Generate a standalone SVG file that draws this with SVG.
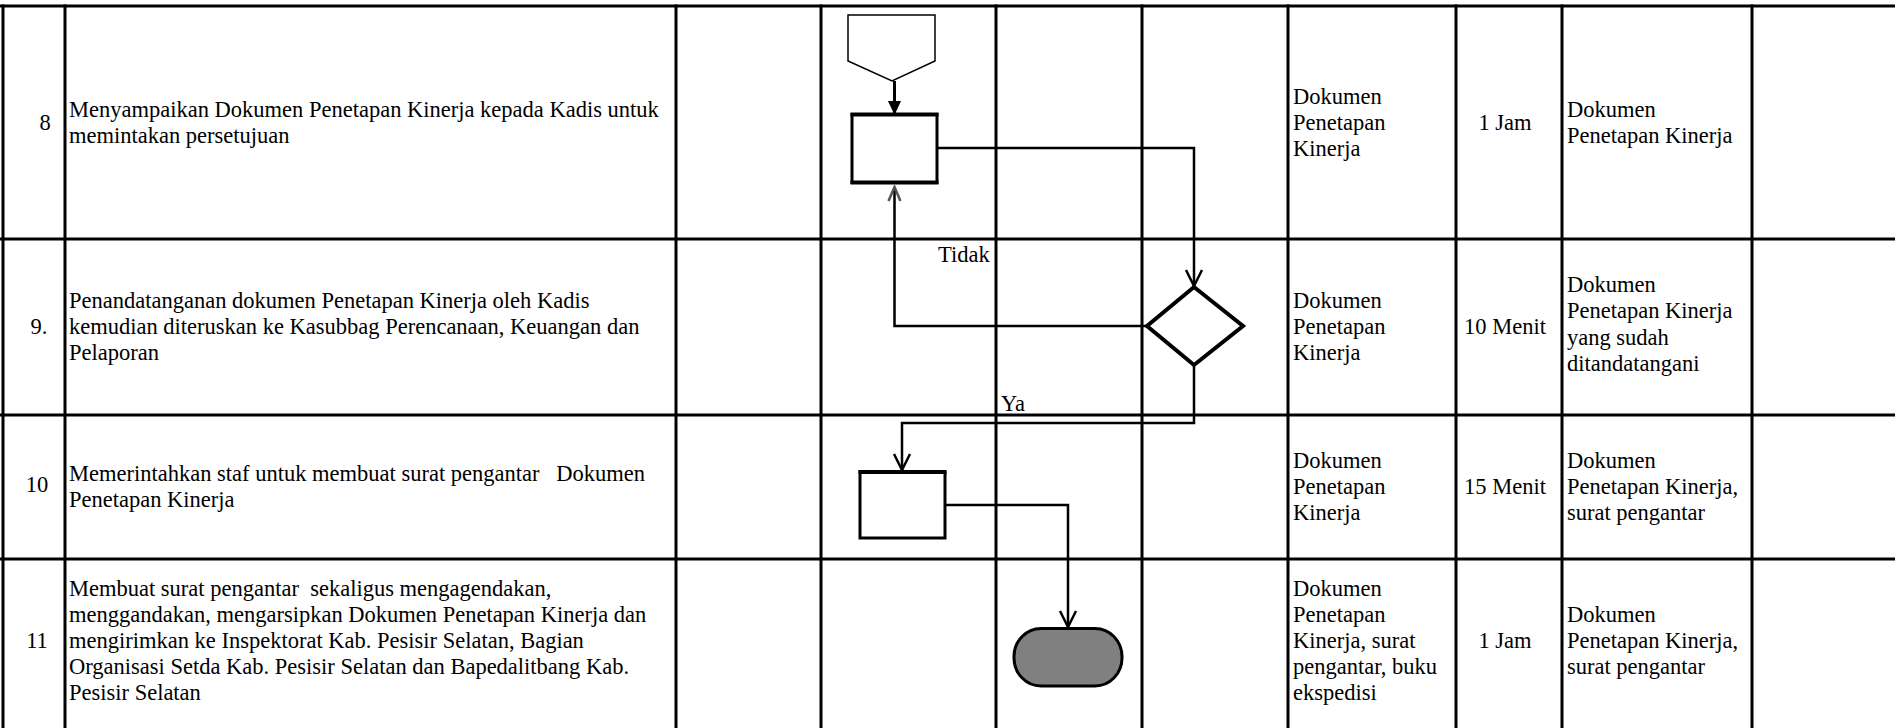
<svg xmlns="http://www.w3.org/2000/svg" width="1895" height="728" viewBox="0 0 1895 728">
<style>
.t{font-family:"Liberation Serif","Times New Roman",serif;font-size:22.5px;fill:#000}
.m{text-anchor:middle}
.grid{stroke:#000;stroke-width:3;fill:none}
.conn{stroke:#000;stroke-width:2.5;fill:none}
.shape{stroke:#000;stroke-width:3;fill:#fff}
</style>
<defs>
<marker id="open" viewBox="-18 -10 20 20" refX="0" refY="0" markerWidth="20" markerHeight="20" markerUnits="userSpaceOnUse" orient="auto">
<path d="M-16,-8 L0,0 L-16,8" fill="none" stroke="#000" stroke-width="2.5"/>
</marker>
<marker id="openfade" viewBox="-18 -10 20 20" refX="0" refY="0" markerWidth="20" markerHeight="20" markerUnits="userSpaceOnUse" orient="auto">
<path d="M-14,-6 L0,0 L-14,6" fill="none" stroke="#555" stroke-width="2.5"/>
</marker>
<marker id="solid" viewBox="-16 -8 18 16" refX="0" refY="0" markerWidth="18" markerHeight="16" markerUnits="userSpaceOnUse" orient="auto">
<path d="M-14,-6.5 L0,0 L-14,6.5 Z" fill="#000"/>
</marker>
</defs>
<rect width="1895" height="728" fill="#fff"/>
<g id="table" class="grid">
<line x1="0" y1="6" x2="1895" y2="6"/>
<line x1="0" y1="239" x2="1895" y2="239"/>
<line x1="0" y1="415" x2="1895" y2="415"/>
<line x1="0" y1="559" x2="1895" y2="559"/>
<line x1="3" y1="4.5" x2="3" y2="728"/>
<line x1="65" y1="4.5" x2="65" y2="728"/>
<line x1="676" y1="4.5" x2="676" y2="728"/>
<line x1="821" y1="4.5" x2="821" y2="728"/>
<line x1="996" y1="4.5" x2="996" y2="728"/>
<line x1="1142" y1="4.5" x2="1142" y2="728"/>
<line x1="1288" y1="4.5" x2="1288" y2="728"/>
<line x1="1456" y1="4.5" x2="1456" y2="728"/>
<line x1="1562" y1="4.5" x2="1562" y2="728"/>
<line x1="1752" y1="4.5" x2="1752" y2="728"/>
</g>
<g id="row8" class="t">
<text x="45" y="130" class="m">8</text>
<text x="69" y="117">Menyampaikan Dokumen Penetapan Kinerja kepada Kadis untuk</text>
<text x="69" y="143">memintakan persetujuan</text>
<text x="1293" y="104">Dokumen</text>
<text x="1293" y="130">Penetapan</text>
<text x="1293" y="156">Kinerja</text>
<text x="1505" y="130" class="m">1 Jam</text>
<text x="1567" y="117">Dokumen</text>
<text x="1567" y="143">Penetapan Kinerja</text>
</g>
<g id="row9" class="t">
<text x="39" y="334" class="m">9.</text>
<text x="69" y="308">Penandatanganan dokumen Penetapan Kinerja oleh Kadis</text>
<text x="69" y="334">kemudian diteruskan ke Kasubbag Perencanaan, Keuangan dan</text>
<text x="69" y="360">Pelaporan</text>
<text x="1293" y="308">Dokumen</text>
<text x="1293" y="334">Penetapan</text>
<text x="1293" y="360">Kinerja</text>
<text x="1505" y="334" class="m">10 Menit</text>
<text x="1567" y="292">Dokumen</text>
<text x="1567" y="318">Penetapan Kinerja</text>
<text x="1567" y="345">yang sudah</text>
<text x="1567" y="371">ditandatangani</text>
</g>
<g id="row10" class="t">
<text x="37" y="492" class="m">10</text>
<text x="69" y="481" xml:space="preserve">Memerintahkan staf untuk membuat surat pengantar   Dokumen</text>
<text x="69" y="507">Penetapan Kinerja</text>
<text x="1293" y="468">Dokumen</text>
<text x="1293" y="494">Penetapan</text>
<text x="1293" y="520">Kinerja</text>
<text x="1505" y="494" class="m">15 Menit</text>
<text x="1567" y="468">Dokumen</text>
<text x="1567" y="494">Penetapan Kinerja,</text>
<text x="1567" y="520">surat pengantar</text>
</g>
<g id="row11" class="t">
<text x="37" y="648" class="m">11</text>
<text x="69" y="596" xml:space="preserve">Membuat surat pengantar  sekaligus mengagendakan,</text>
<text x="69" y="622">menggandakan, mengarsipkan Dokumen Penetapan Kinerja dan</text>
<text x="69" y="648">mengirimkan ke Inspektorat Kab. Pesisir Selatan, Bagian</text>
<text x="69" y="674">Organisasi Setda Kab. Pesisir Selatan dan Bapedalitbang Kab.</text>
<text x="69" y="700">Pesisir Selatan</text>
<text x="1293" y="596">Dokumen</text>
<text x="1293" y="622">Penetapan</text>
<text x="1293" y="648">Kinerja, surat</text>
<text x="1293" y="674">pengantar, buku</text>
<text x="1293" y="700">ekspedisi</text>
<text x="1505" y="648" class="m">1 Jam</text>
<text x="1567" y="622">Dokumen</text>
<text x="1567" y="648">Penetapan Kinerja,</text>
<text x="1567" y="674">surat pengantar</text>
</g>
<g id="connectors">
<line x1="894.5" y1="81" x2="894.5" y2="115" stroke="#000" stroke-width="3" marker-end="url(#solid)"/>
<polyline class="conn" points="937,148 1194,148 1194,286" marker-end="url(#open)"/>
<polyline class="conn" points="1147,326 894.5,326 894.5,187" marker-end="url(#openfade)"/>
<polyline class="conn" points="1194,365 1194,423 902,423 902,470" marker-end="url(#open)"/>
<polyline class="conn" points="945,505 1068,505 1068,627" marker-end="url(#open)"/>
<text class="t" x="938" y="262">Tidak</text>
<text class="t" x="1001" y="411">Ya</text>
</g>
<g id="offpage">
<polygon points="848,15 935,15 935,61 892,81 848,61" fill="#fff" stroke="#000" stroke-width="1.5"/>
</g>
<g id="process8">
<rect x="852" y="114.5" width="85" height="68" class="shape"/>
<line x1="850.5" y1="114.5" x2="938.5" y2="114.5" stroke="#000" stroke-width="4"/>
<line x1="850.5" y1="182.5" x2="938.5" y2="182.5" stroke="#000" stroke-width="4"/>
</g>
<g id="decision9">
<polygon points="1194,287 1243,326 1194,365 1147,326" fill="#fff" stroke="#000" stroke-width="4"/>
</g>
<g id="process10">
<rect x="860" y="472" width="85" height="66" class="shape"/>
<line x1="858.5" y1="472" x2="946.5" y2="472" stroke="#000" stroke-width="4"/>
</g>
<g id="end11">
<rect x="1014" y="628.5" width="108" height="57.5" rx="27" ry="28" fill="#808080" stroke="#000" stroke-width="3"/>
</g>
</svg>
